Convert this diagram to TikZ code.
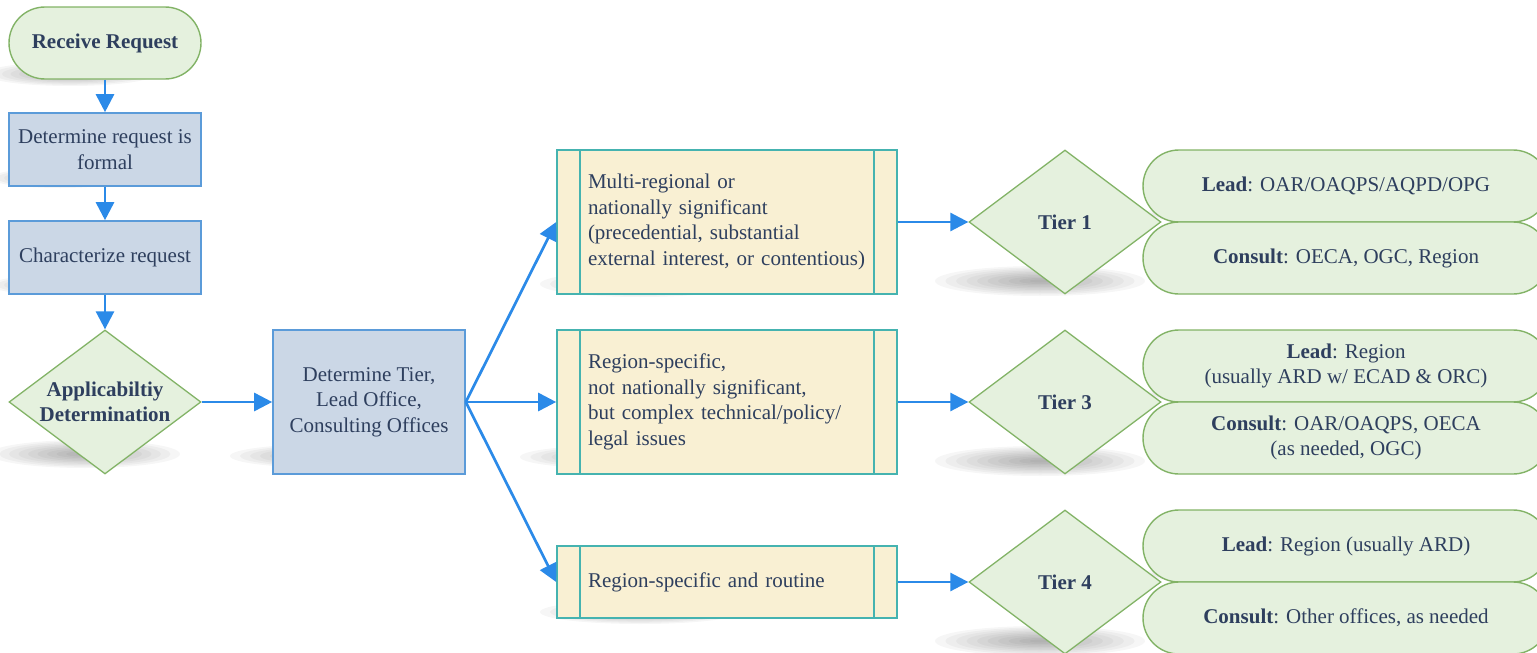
\documentclass[tikz,border=0pt]{standalone}
\usepackage{fontspec}
\setmainfont{Liberation Serif}
\usetikzlibrary{shapes.geometric,arrows.meta}

\definecolor{inkc}{HTML}{2E3F5E}
\definecolor{grnfill}{HTML}{E5F1DE}
\definecolor{grnline}{HTML}{82B366}
\definecolor{bluefill}{HTML}{CBD7E6}
\definecolor{blueline}{HTML}{5B9BD9}
\definecolor{yelfill}{HTML}{F9F0D3}
\definecolor{tealline}{HTML}{45B3B0}
\definecolor{arrowc}{HTML}{2B8AE8}

% soft drop shadow: stacked translucent ellipses
\newcommand\softshade[4]{%
  \foreach \k in {1,...,10}{%
    \fill[black,opacity=0.035] (#1,#2) ellipse ({#3pt*\k/10} and {#4pt*\k/10});}}

\tikzset{
  basetext/.style={text=inkc,font=\fontsize{21}{25.5}\selectfont,inner sep=0pt},
  terminal/.style={basetext,draw=grnline,fill=grnfill,line width=1.4pt,
    rounded corners=36pt,minimum width=192pt,minimum height=72pt,
    font=\fontsize{21}{25.5}\selectfont\bfseries},
  process/.style={basetext,draw=blueline,fill=bluefill,line width=1.6pt,
    minimum width=192pt,align=center},
  decision/.style={basetext,diamond,draw=grnline,fill=grnfill,line width=1.3pt,
    minimum width=192pt,minimum height=144pt,aspect=1.333,align=center,
    font=\fontsize{21}{25.5}\selectfont\bfseries},
  predef/.style={basetext,draw=tealline,fill=yelfill,line width=1.6pt,
    minimum height=144pt,text width=278pt,inner xsep=31pt,align=left},
  pill/.style={basetext,draw=grnline,fill=grnfill,line width=1.4pt,
    rounded corners=36pt,minimum width=406pt,minimum height=72pt,align=center},
  flow/.style={draw=arrowc,line width=2.7pt,-{Triangle[length=18pt,width=18pt]}},
  sidebar/.style={draw=tealline,line width=1.6pt},
}

\begin{document}
\begin{tikzpicture}[x=1pt,y=-1pt]
\useasboundingbox (0,0) rectangle (1537,653);
\clip (0,0) rectangle (1537,653);

% shadows
\softshade{70}{74}{85}{12}
\softshade{60}{178}{70}{10}
\softshade{60}{285}{70}{10}
\softshade{85}{454}{95}{14}
\softshade{330}{456}{100}{12}
\softshade{640}{284}{100}{13}
\softshade{625}{457}{105}{12}
\softshade{640}{612}{100}{12}
\softshade{1040}{281}{105}{15}
\softshade{1040}{461}{105}{15}
\softshade{1040}{641}{105}{15}
\softshade{1250}{214}{110}{9}
\softshade{1250}{394}{110}{9}
\softshade{1250}{574}{110}{9}

% left column
\node[terminal] (recv) at (105,43) {Receive Request};
\node[process,minimum height=73pt] (formal) at (105,149.5) {Determine request is\\formal};
\node[process,minimum height=73pt] (charac) at (105,257.5) {Characterize request};
\node[decision] (applic) at (105,402) {Applicabiltiy\\Determination};
\node[process,minimum height=144pt] (tierbox) at (369,402) {Determine Tier,\\Lead Office,\\Consulting Offices};

% category boxes
\node[predef] (cat1) at (727,222) {Multi-regional or\\nationally significant\\(precedential, substantial\\external interest, or contentious)};
\node[predef] (cat3) at (727,402) {Region-specific,\\not nationally significant,\\but complex technical/policy/\\legal issues};
\node[predef,minimum height=72pt] (cat4) at (727,582) {Region-specific and routine};
\foreach \c in {cat1,cat3,cat4}{
  \draw[sidebar] ([xshift=24pt]\c.north west) -- ([xshift=24pt]\c.south west);
  \draw[sidebar] ([xshift=-24pt]\c.north east) -- ([xshift=-24pt]\c.south east);
}

% tiers
\node[decision] (tier1) at (1065,222) {Tier 1};
\node[decision] (tier3) at (1065,402) {Tier 3};
\node[decision] (tier4) at (1065,582) {Tier 4};

% lead / consult offices
\node[pill] (lead1) at (1346,186) {\textbf{Lead}: OAR/OAQPS/AQPD/OPG};
\node[pill] (cons1) at (1346,258) {\textbf{Consult}: OECA, OGC, Region};
\node[pill] (lead3) at (1346,366) {\textbf{Lead}: Region\\(usually ARD w/ ECAD \& ORC)};
\node[pill] (cons3) at (1346,438) {\textbf{Consult}: OAR/OAQPS, OECA\\(as needed, OGC)};
\node[pill] (lead4) at (1346,546) {\textbf{Lead}: Region (usually ARD)};
\node[pill] (cons4) at (1346,618) {\textbf{Consult}: Other offices, as needed};

% connectors
\draw[flow] (recv) -- (formal);
\draw[flow] (formal) -- (charac);
\draw[flow] (charac) -- (applic);
\draw[flow] (applic) -- (tierbox);
\draw[flow] (tierbox.east) -- (cat1.west);
\draw[flow] (tierbox.east) -- (cat3.west);
\draw[flow] (tierbox.east) -- (cat4.west);
\draw[flow] (cat1) -- (tier1);
\draw[flow] (cat3) -- (tier3);
\draw[flow] (cat4) -- (tier4);
\end{tikzpicture}
\end{document}
